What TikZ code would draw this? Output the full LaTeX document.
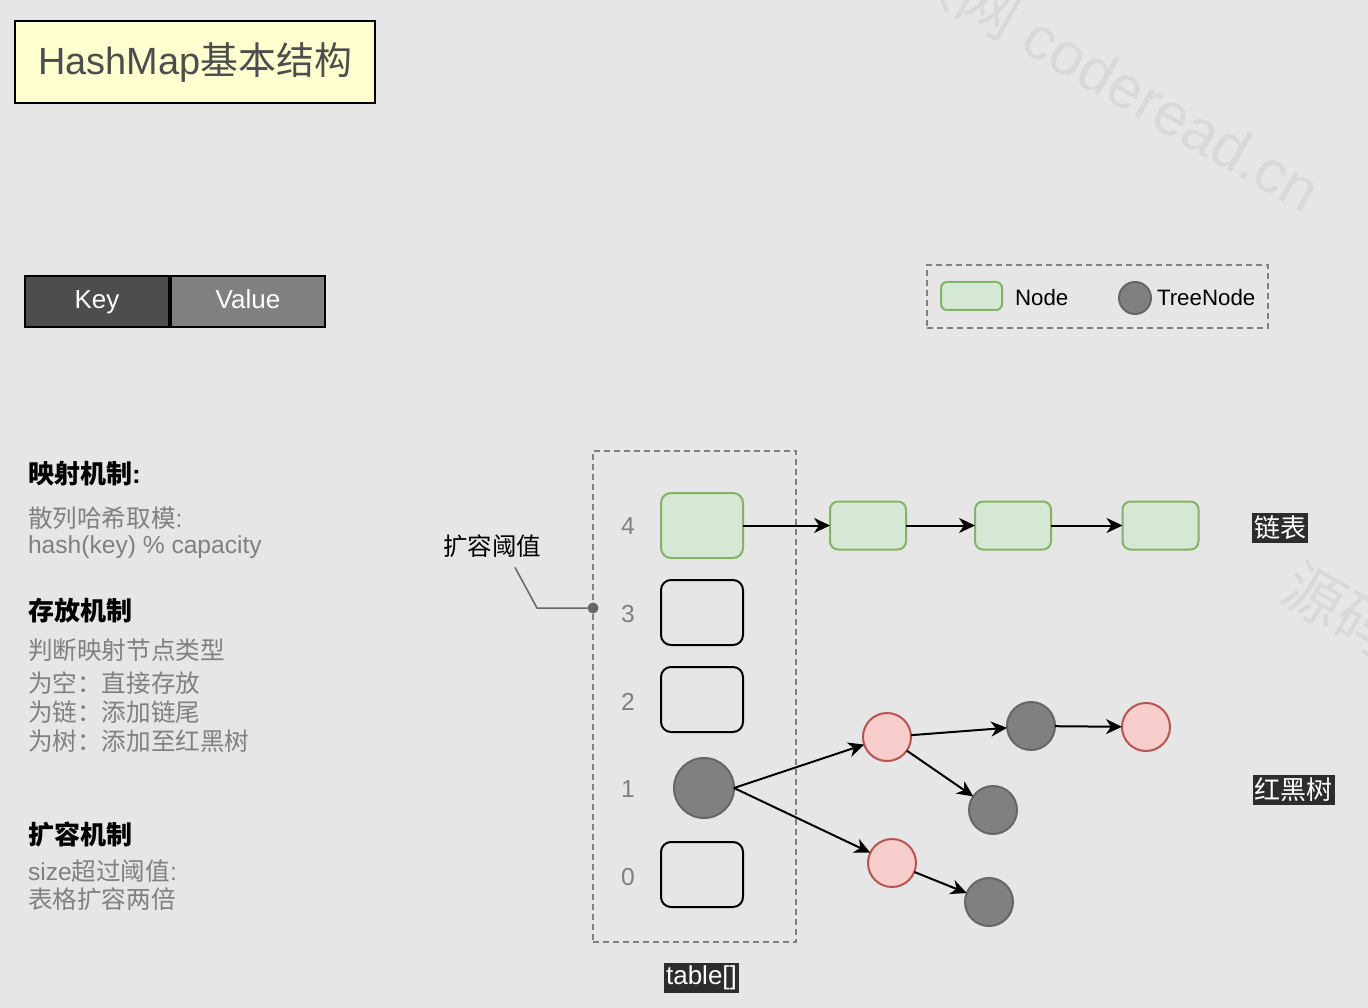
\documentclass[tikz,border=0pt]{standalone}
\usepackage{fontspec}
\setmainfont{Liberation Sans}
\newfontfamily\zh{Noto Sans CJK SC}
\usetikzlibrary{arrows.meta}

\definecolor{canvas}{HTML}{E6E6E6}
\definecolor{wmgrey}{HTML}{D9D9D9}
\definecolor{titlefill}{HTML}{FFFFD0}
\definecolor{titletext}{HTML}{4D4D4D}
\definecolor{keyfill}{HTML}{4D4D4D}
\definecolor{valfill}{HTML}{808080}
\definecolor{textgrey}{HTML}{808080}
\definecolor{dashgrey}{HTML}{808080}
\definecolor{leadgrey}{HTML}{666666}
\definecolor{nodefill}{HTML}{D5E8D4}
\definecolor{nodeline}{HTML}{82B366}
\definecolor{treefill}{HTML}{808080}
\definecolor{treeline}{HTML}{666666}
\definecolor{redfill}{HTML}{F8CECC}
\definecolor{redline}{HTML}{B85450}
\definecolor{tagbg}{HTML}{2D2D2D}

\newcommand\pxsize[1]{\fontsize{#1}{#1}\selectfont}

\begin{document}
\begin{tikzpicture}[x=1pt, y=-1pt, every node/.style={inner sep=0pt, outer sep=0pt},
  region/.style={draw=dashgrey, line width=1.5pt, dash pattern=on 6pt off 4pt},
  slot/.style={draw, line width=2pt, rounded corners=10pt, minimum width=82pt, minimum height=65pt},
  lnode/.style={draw=nodeline, fill=nodefill, line width=2pt, rounded corners=8pt, minimum width=76pt, minimum height=48pt},
  tnode/.style={circle, draw=treeline, fill=treefill, line width=2pt, minimum size=48pt},
  rnode/.style={circle, draw=redline, fill=redfill, line width=2pt, minimum size=48pt},
  link/.style={-{Stealth[length=16pt, width=15pt, inset=5pt]}, line width=2pt},
  kv/.style={draw, line width=2pt, text=white, minimum height=51pt, text height=19pt, text depth=5pt, font=\pxsize{26}},
  head/.style={anchor=west, font=\pxsize{26}\bfseries},
  desc/.style={anchor=west, text=textgrey, font=\pxsize{24.6}},
  idx/.style={text=textgrey, font=\pxsize{24.6}},
  tag/.style={fill=tagbg, text=white, inner sep=2pt, minimum height=30pt, font=\pxsize{26}},
  wmark/.style={text=wmgrey, rotate=-30, font=\pxsize{60}}]
\fill[canvas] (0,0) rectangle (1368,1008);

% watermark
\begin{scope}
\clip (0,0) rectangle (1368,1008);
\node[wmark, anchor=east] (wm1) at (1316,195) {{\zh 读网} coderead.cn};
\node[wmark, anchor=west] (wm2) at (1289,580) {\zh 源码};
\end{scope}

% title and key/value
\node[draw, line width=2pt, fill=titlefill, minimum width=360pt, minimum height=82pt,
  text=titletext, font=\pxsize{37.9}] (title) at (195,62) {HashMap{\zh 基本结构}};
\node[kv, fill=keyfill, minimum width=144pt] (key) at (97,301.5) {Key};
\node[kv, fill=valfill, minimum width=154pt] (value) at (248,301.5) {Value};

% legend
\node[region, minimum width=341pt, minimum height=63pt] (legend) at (1097.5,296.5) {};
\node[lnode, rounded corners=6pt, minimum width=61pt, minimum height=28pt] (lgnode) at (971.5,296) {};
\node[anchor=west, font=\pxsize{22.3}] (lgnodetxt) at (1015,298) {Node};
\node[tnode, minimum size=32pt] (lgtree) at (1135,298) {};
\node[anchor=west, font=\pxsize{22.3}] (lgtreetxt) at (1157,298) {TreeNode};

% mechanisms
\node[head] (maphead) at (28,474) {{\zh 映射机制}:};
\node[desc] (map1) at (28,518) {{\zh 散列哈希取模}:};
\node[desc] (map2) at (28,547) {hash(key) \% capacity};
\node[head] (puthead) at (28,611) {\zh 存放机制};
\node[desc] (put1) at (28,650) {\zh 判断映射节点类型};
\node[desc] (put2) at (28,683) {\zh 为空：直接存放};
\node[desc] (put3) at (28,712) {\zh 为链：添加链尾};
\node[desc] (put4) at (28,741) {\zh 为树：添加至红黑树};
\node[head] (growhead) at (28,835) {\zh 扩容机制};
\node[desc] (grow1) at (28,871) {size{\zh 超过阈值}:};
\node[desc] (grow2) at (28,899) {\zh 表格扩容两倍};

% table
\node[region, minimum width=203pt, minimum height=491pt] (table) at (694.5,696.5) {};
\node[idx] (i4) at (628,526) {4};
\node[idx] (i3) at (628,614) {3};
\node[idx] (i2) at (628,702) {2};
\node[idx] (i1) at (628,789) {1};
\node[idx] (i0) at (628,877) {0};
\node[lnode, rounded corners=10pt, minimum width=82pt, minimum height=65pt] (t4) at (702,525.5) {};
\node[slot] (t3) at (702,612.5) {};
\node[slot] (t2) at (702,699.5) {};
\node[tnode, minimum size=60pt] (t1) at (704,788) {};
\node[slot] (t0) at (702,874.5) {};

% threshold marker
\node[font=\pxsize{24.5}\zh] (thr) at (492,546) {扩容阈值};
\node[circle, fill=leadgrey, minimum size=11pt] (thdot) at (593,608) {};
\coordinate (thbend) at (537,608);
\draw[leadgrey, line width=1.5pt] ([xshift=23pt, yshift=-10pt]thr.south) -- (thbend) -- (thdot);

% linked list
\node[lnode] (l1) at (868,525.5) {};
\node[lnode] (l2) at (1013,525.5) {};
\node[lnode] (l3) at (1160.5,525.5) {};
\draw[link] (t4) -- (l1);
\draw[link] (l1) -- (l2);
\draw[link] (l2) -- (l3);

% red-black tree
\node[rnode] (r1) at (887,737) {};
\node[tnode] (g1) at (1031,726) {};
\node[rnode] (r2) at (1146,727) {};
\node[tnode] (g2) at (993,810) {};
\node[rnode] (r3) at (892,863) {};
\node[tnode] (g3) at (989,902) {};
\draw[link] (t1.east) -- (r1);
\draw[link] (t1.east) -- (r3);
\draw[link] (r1) -- (g1);
\draw[link] (r1) -- (g2);
\draw[link] (g1) -- (r2);
\draw[link] (r3) -- (g3);

% captions
\node[tag, font=\pxsize{26}\zh] (listtag) at (1280,528) {链表};
\node[tag, font=\pxsize{26}\zh] (treetag) at (1293.5,790) {红黑树};
\node[tag] (tabletag) at (701.5,978) {table[]};
\end{tikzpicture}
\end{document}
